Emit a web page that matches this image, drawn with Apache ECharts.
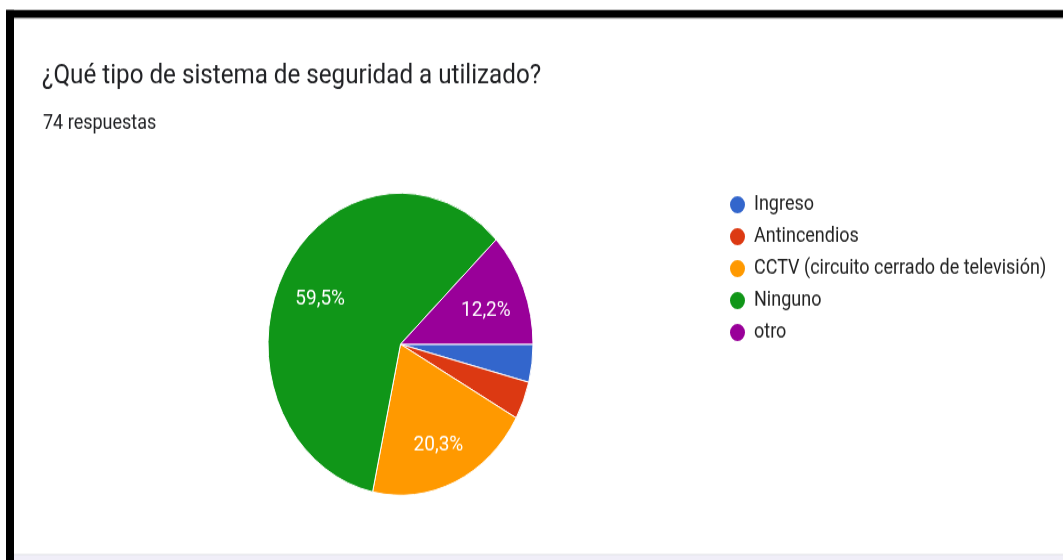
<!DOCTYPE html>
<html>
<head>
<meta charset="utf-8">
<script src="https://cdn.jsdelivr.net/npm/echarts@6/dist/echarts.min.js"></script>
<style>
  html, body { margin: 0; padding: 0; background: #fff; width: 1063px; height: 560px; }
  /* the screenshot is stretched vertically, so draw at 491px and stretch */
  #chart { width: 1063px; height: 491px; transform: scaleY(1.1405); transform-origin: 0 0; }
</style>
</head>
<body>
<div id="chart"></div>
<script>
const title = '¿Qué tipo de sistema de seguridad a utilizado?';
const subtitle = '74 respuestas';
const categories = ['Ingreso', 'Antincendios', 'CCTV (circuito cerrado de televisión)', 'Ninguno', 'otro'];
const counts = [3, 3, 15, 44, 9];
const colors = ['#3366cc', '#dc3912', '#ff9900', '#109618', '#990099'];

const total = counts.reduce((a, b) => a + b, 0);
const pieData = categories.map((name, i) => ({ name: name, value: counts[i] }));

const chart = echarts.init(document.getElementById('chart'));

const font = 'Roboto, Arial, sans-serif';

chart.setOption({
  animation: false,
  color: colors,
  title: [
    {
      text: title,
      left: 42,
      top: 55,
      padding: 0,
      textStyle: { fontFamily: font, fontSize: 24.2, fontWeight: 'normal', color: '#202124', lineHeight: 24 }
    },
    {
      text: subtitle,
      left: 43,
      top: 99,
      padding: 0,
      textStyle: { fontFamily: font, fontSize: 18, fontWeight: 'normal', color: '#202124', lineHeight: 18 }
    }
  ],
  legend: {
    orient: 'vertical',
    left: 728,
    top: 170,
    padding: 0,
    icon: 'circle',
    itemWidth: 17,
    itemHeight: 17,
    itemGap: 9,
    selectedMode: false,
    data: categories,
    textStyle: { fontFamily: font, fontSize: 18, color: '#222222', lineHeight: 17, padding: [0, 0, 0, 3] }
  },
  graphic: [
    // black frame at top and left
    { type: 'rect', shape: { x: 6, y: 8.8, width: 1063, height: 7 }, style: { fill: '#000' } },
    { type: 'rect', shape: { x: 6, y: 8.8, width: 8, height: 500 }, style: { fill: '#000' } },
    { type: 'rect', shape: { x: 14, y: 15.8, width: 1063, height: 1 }, style: { fill: '#d6d6d6' } },
    // bottom edge of the card
    { type: 'rect', shape: { x: 14, y: 485.8, width: 1063, height: 1 }, style: { fill: '#dadce0' } },
    { type: 'rect', shape: { x: 14, y: 486.8, width: 1063, height: 6 }, style: { fill: '#f0eef8' } }
  ],
  series: [
    {
      type: 'pie',
      center: [400.5, 301.8],
      radius: [0, 132.5],
      startAngle: 0,
      clockwise: true,
      avoidLabelOverlap: false,
      silent: true,
      itemStyle: { borderColor: '#fff', borderWidth: 1 },
      label: { show: false },
      labelLine: { show: false },
      emphasis: { disabled: true },
      data: pieData
    },
    {
      // invisible copy, only to place the percentage labels further out
      type: 'pie',
      center: [400.5, 301.8],
      radius: [0, 178],
      startAngle: 0,
      clockwise: true,
      avoidLabelOverlap: false,
      silent: true,
      itemStyle: { color: 'rgba(0,0,0,0)', borderWidth: 0 },
      label: {
        show: true,
        position: 'inside',
        offset: [0, 5],
        fontFamily: font,
        fontSize: 19,
        color: '#fff',
        formatter: (p) => {
          const pct = p.value / total * 100;
          return pct < 5 ? '' : pct.toFixed(1).replace('.', ',') + '%';
        }
      },
      labelLine: { show: false },
      emphasis: { disabled: true },
      data: pieData
    }
  ]
});
</script>
</body>
</html>
